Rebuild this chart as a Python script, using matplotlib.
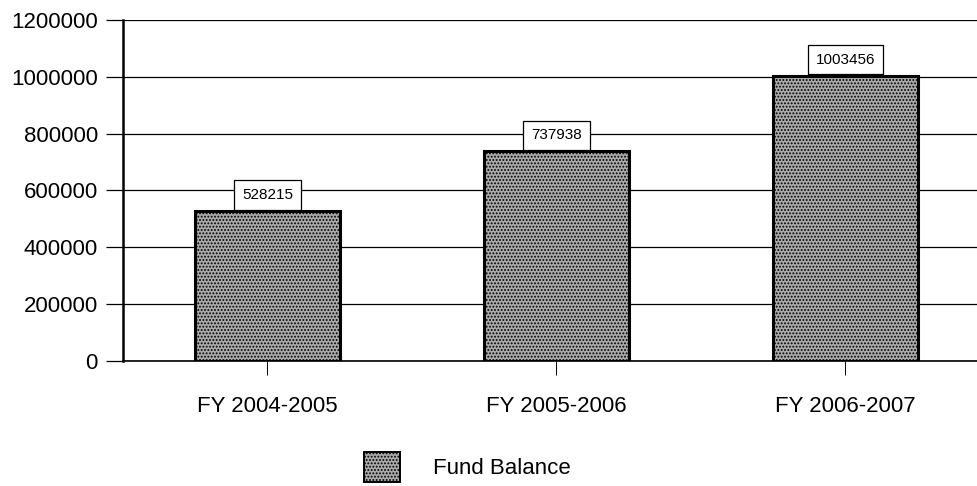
import matplotlib
matplotlib.use("Agg")
import matplotlib.pyplot as plt
from matplotlib.patches import Patch

categories = ["FY 2004-2005", "FY 2005-2006", "FY 2006-2007"]
fund_balance = [528215, 737938, 1003456]
yticks = [0, 200000, 400000, 600000, 800000, 1000000, 1200000]

plt.rcParams['font.family'] = ['Liberation Sans', 'DejaVu Sans']
plt.rcParams['hatch.color'] = '#333333'
plt.rcParams['hatch.linewidth'] = 0.9

fig = plt.figure(figsize=(9.77, 4.86), dpi=100)
ax = fig.add_axes([123/977, 125/486, 3*289/977, 341/486])

x = list(range(len(categories)))
bars = ax.bar(x, fund_balance, width=0.5, color='#aaaaaa', edgecolor='black',
              linewidth=2.2, hatch='.....', zorder=3, label='Fund Balance')

for xi, v in zip(x, fund_balance):
    ax.annotate(str(v), (xi, v), xytext=(0, 6.5), textcoords='offset points',
                ha='center', va='bottom', fontsize=11, zorder=5,
                bbox=dict(boxstyle='square,pad=0.5', fc='white', ec='black', lw=0.9))

ax.set_xlim(-0.5, 2.5)
ax.set_ylim(0, 1200000)
ax.set_yticks(yticks)
ax.set_yticklabels([str(t) for t in yticks], fontsize=16)
ax.set_xticks(x)
ax.set_xticklabels(categories, fontsize=16)
ax.yaxis.grid(True, color='black', linewidth=0.9, zorder=0)
ax.set_axisbelow(True)
for s in ['top', 'right']:
    ax.spines[s].set_visible(False)
ax.spines['left'].set_linewidth(1.8)
ax.spines['bottom'].set_linewidth(1.2)
ax.tick_params(axis='y', length=12, width=0.9, pad=6)
ax.tick_params(axis='x', length=10, width=0.7, pad=15)

handle = Patch(facecolor='#aaaaaa', edgecolor='black', hatch='.....', linewidth=1.4)
fig.legend([handle], ['Fund Balance'], loc='center left',
           bbox_to_anchor=(364/977, 1 - 467/486), frameon=False, fontsize=16,
           handlelength=1.6, handleheight=1.75, handletextpad=1.5, borderpad=0,
           borderaxespad=0)

fig.savefig('out.png', dpi=100)
